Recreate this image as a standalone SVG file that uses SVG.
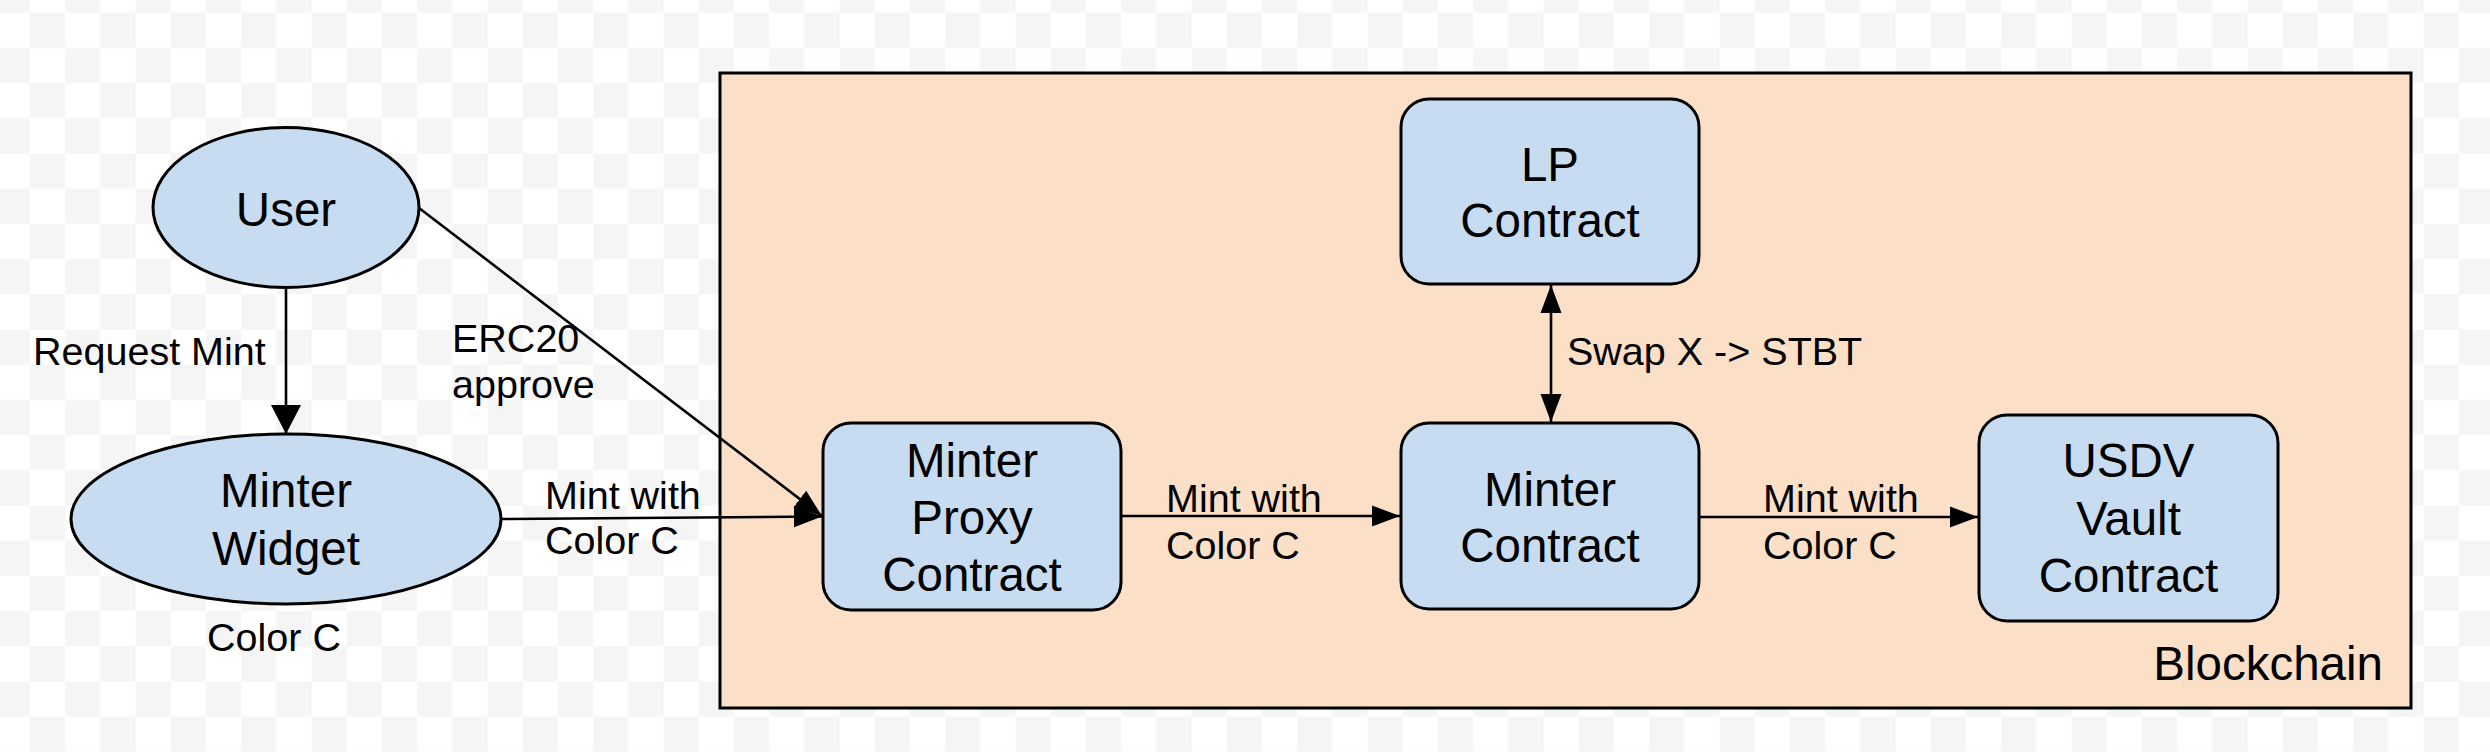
<svg xmlns="http://www.w3.org/2000/svg" width="2490" height="752" viewBox="0 0 2490 752">
  <style>
    .node { fill: #c7dcf0; stroke: #000; stroke-width: 3; }
    .ntext { font-family: "Liberation Sans", Arial, sans-serif; font-size: 47.5px; fill: #000; text-anchor: middle; }
    .ltext { font-family: "Liberation Sans", Arial, sans-serif; font-size: 39.5px; fill: #000; }
    .conn { stroke: #000; stroke-width: 2.6; fill: none; }
  </style>
  <defs>
    <pattern id="checker" patternUnits="userSpaceOnUse" x="30" y="12.7" width="70.4" height="70.4">
      <rect width="70.4" height="70.4" fill="#ffffff"/>
      <rect width="35.2" height="35.2" fill="#f5f5f5"/>
      <rect x="35.2" y="35.2" width="35.2" height="35.2" fill="#f5f5f5"/>
    </pattern>
    <marker id="ah" markerUnits="userSpaceOnUse" markerWidth="30" markerHeight="22" refX="28" refY="11" orient="auto-start-reverse" viewBox="0 0 30 22">
      <path d="M0,0.5 L28,11 L0,21.5 z" fill="#000"/>
    </marker>
    <marker id="ahBig" markerUnits="userSpaceOnUse" markerWidth="31" markerHeight="32" refX="29" refY="15.5" orient="auto" viewBox="0 0 31 32">
      <path d="M0,0.5 L29,15.5 L0,30.5 z" fill="#000"/>
    </marker>
  </defs>

  <rect id="background" x="0" y="0" width="2490" height="752" fill="url(#checker)"/>

  <g id="blockchain">
    <rect x="720" y="73" width="1691" height="635" fill="#fbdfc7" stroke="#000" stroke-width="3"/>
    <text class="ntext" x="2383" y="680" style="text-anchor:end">Blockchain</text>
  </g>

  <g id="connectors">
    <line class="conn" x1="286" y1="288" x2="286" y2="434" marker-end="url(#ahBig)"/>
    <line class="conn" x1="419" y1="208" x2="822" y2="516" marker-end="url(#ah)"/>
    <line class="conn" x1="502" y1="519" x2="822" y2="516.5" marker-end="url(#ah)"/>
    <line class="conn" x1="1122" y1="516" x2="1400" y2="516" marker-end="url(#ah)"/>
    <line class="conn" x1="1700" y1="517" x2="1978" y2="517" marker-end="url(#ah)"/>
    <line class="conn" x1="1551" y1="285" x2="1551" y2="422" marker-start="url(#ah)" marker-end="url(#ah)"/>
    <text class="ltext" x="33" y="365">Request Mint</text>
    <text class="ltext" x="452" y="352">ERC20</text>
    <text class="ltext" x="452" y="398">approve</text>
    <text class="ltext" x="545" y="509">Mint with</text>
    <text class="ltext" x="545" y="554">Color C</text>
    <text class="ltext" x="1166" y="512">Mint with</text>
    <text class="ltext" x="1166" y="559">Color C</text>
    <text class="ltext" x="1567" y="365">Swap X -&gt; STBT</text>
    <text class="ltext" x="1763" y="512">Mint with</text>
    <text class="ltext" x="1763" y="559">Color C</text>
  </g>

  <g id="user">
    <ellipse class="node" cx="286" cy="207.5" rx="133" ry="80"/>
    <text class="ntext" x="286" y="226">User</text>
  </g>

  <g id="minter-widget">
    <ellipse class="node" cx="286" cy="519" rx="215" ry="85"/>
    <text class="ntext" x="286" y="507">Minter</text>
    <text class="ntext" x="286" y="565">Widget</text>
    <text class="ltext" x="274" y="651" style="text-anchor:middle">Color C</text>
  </g>

  <g id="minter-proxy-contract">
    <rect class="node" x="823" y="423" width="298" height="187" rx="28" ry="28"/>
    <text class="ntext" x="972" y="477">Minter</text>
    <text class="ntext" x="972" y="534">Proxy</text>
    <text class="ntext" x="972" y="591">Contract</text>
  </g>

  <g id="lp-contract">
    <rect class="node" x="1401" y="99" width="298" height="185" rx="28" ry="28"/>
    <text class="ntext" x="1550" y="181">LP</text>
    <text class="ntext" x="1550" y="237">Contract</text>
  </g>

  <g id="minter-contract">
    <rect class="node" x="1401" y="423" width="298" height="186" rx="28" ry="28"/>
    <text class="ntext" x="1550" y="506">Minter</text>
    <text class="ntext" x="1550" y="562">Contract</text>
  </g>

  <g id="usdv-vault-contract">
    <rect class="node" x="1979" y="415" width="299" height="206" rx="28" ry="28"/>
    <text class="ntext" x="2128.5" y="477">USDV</text>
    <text class="ntext" x="2128.5" y="535">Vault</text>
    <text class="ntext" x="2128.5" y="592">Contract</text>
  </g>
</svg>
